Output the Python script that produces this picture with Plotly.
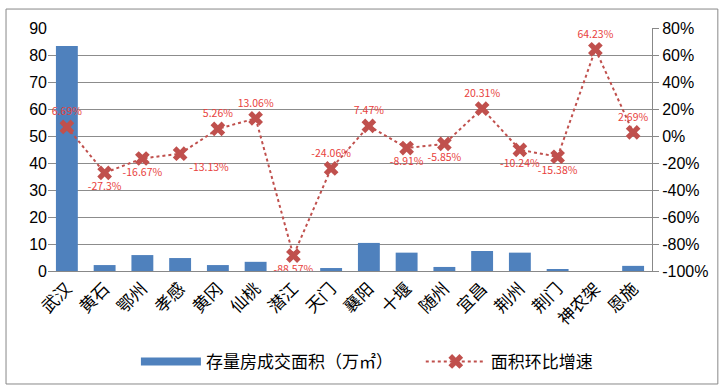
import plotly.graph_objects as go

cities = ["武汉", "黄石", "鄂州", "孝感", "黄冈", "仙桃", "潜江", "天门", "襄阳",
          "十堰", "随州", "宜昌", "荆州", "荆门", "神农架", "恩施"]
area = [83.3, 2.2, 5.9, 4.8, 2.2, 3.4, 0, 1.1, 10.4, 6.8, 1.5, 7.4, 6.8, 0.4, 0, 1.9]
growth = [6.69, -27.3, -16.67, -13.13, 5.26, 13.06, -88.57, -24.06, 7.47,
          -8.91, -5.85, 20.31, -10.24, -15.38, 64.23, 2.69]
label_pos = ["top center", "bottom center", "bottom center", "bottom right",
             "top center", "top center", "bottom center", "top center", "top center",
             "bottom center", "bottom center", "top center", "bottom center",
             "bottom center", "top center", "top center"]
left_ticks = list(range(0, 91, 10))
right_ticks = list(range(-100, 81, 20))
right_text = [f"{v}%" for v in right_ticks]

fig = go.Figure()
fig.add_trace(go.Bar(
    x=cities, y=area, name="存量房成交面积（万㎡）", showlegend=False,
    marker=dict(color="#4f81bd", line=dict(width=0)), width=0.58,
    yaxis="y"))
# legend-only entry drawn as a wide bar swatch
fig.add_trace(go.Scatter(
    x=[None], y=[None], name="存量房成交面积（万㎡）" + "\u00a0" * 6, mode="lines",
    line=dict(color="#4f81bd", width=8), yaxis="y"))
fig.add_trace(go.Scatter(
    x=cities, y=growth, name="面积环比增速", yaxis="y2",
    mode="lines+markers+text",
    line=dict(color="#c0504d", width=2, dash="dot"),
    marker=dict(symbol="x", size=13, color="#c0504d"),
    text=[f"{v}%" for v in growth], textposition=label_pos,
    textfont=dict(color="#e8413c", size=10.5, family="Noto Sans CJK SC")))

fig.update_layout(
    width=728, height=390,
    margin=dict(l=48, r=76, t=28, b=119, autoexpand=False),
    paper_bgcolor="white", plot_bgcolor="white",
    font=dict(family="Noto Sans CJK SC", color="#000"),
    showlegend=True,
    legend=dict(orientation="h", x=0.528, xanchor="center", y=-0.3, yanchor="top",
                font=dict(size=17), itemwidth=60),
    bargap=0.4,
    xaxis=dict(type="category", range=[-0.5, len(cities) - 0.5],
               tickangle=-45, tickfont=dict(size=17),
               showline=True, linecolor="#888", ticks="", showgrid=False,
               automargin=False),
    yaxis=dict(range=[0, 90], tickvals=left_ticks, tickfont=dict(size=16, family="Liberation Sans"),
               showgrid=True, gridcolor="#8c8c8c", gridwidth=1, zeroline=False,
               showline=False, ticks="", automargin=False),
    yaxis2=dict(range=[-100, 80], tickvals=right_ticks, ticktext=right_text,
                overlaying="y", side="right",
                tickfont=dict(size=16, family="Liberation Sans"),
                showgrid=False, zeroline=False, showline=True, linecolor="#888",
                ticks="outside", ticklen=6, tickcolor="#888", automargin=False),
)
fig.add_shape(type="rect", xref="paper", yref="paper",
              x0=-0.0695, x1=1.109, y0=-0.465, y1=1.078,
              line=dict(color="#888", width=1))
fig.write_html("out.html", config={"displayModeBar": False},
               post_script="document.body.style.margin='0';")
